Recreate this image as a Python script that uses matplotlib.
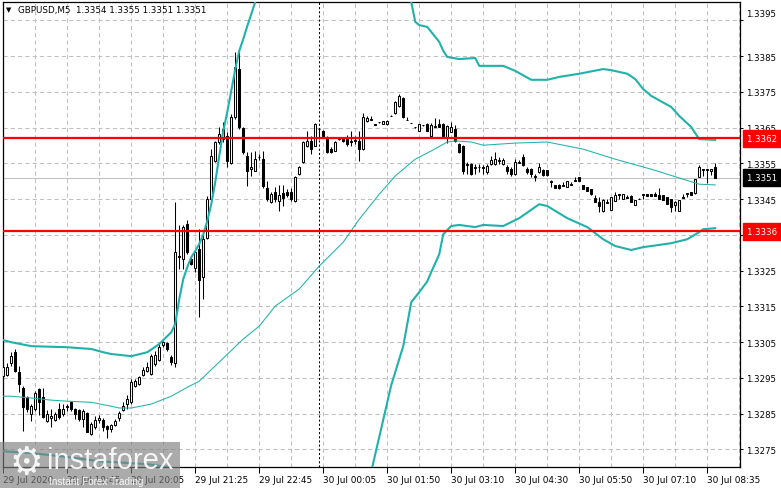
import matplotlib
matplotlib.use("Agg")
import matplotlib.pyplot as plt
import matplotlib.transforms as mtransforms
from matplotlib.patches import Rectangle
import numpy as np

# GBPUSD M5 bars (bar index 0 = leftmost)
opens = [1.32955, 1.32959, 1.32992, 1.33022, 1.32966, 1.32921, 1.32896, 1.32849, 1.32863, 1.32919,
         1.32896, 1.32830, 1.32837, 1.32833, 1.32863, 1.32849, 1.32868, 1.32884, 1.32863, 1.32861,
         1.32835, 1.32852, 1.32793, 1.32812, 1.32833, 1.32833, 1.32815, 1.32807, 1.32818, 1.32837,
         1.32861, 1.32877, 1.32882, 1.32928, 1.32933, 1.32958, 1.32970, 1.32961, 1.32989, 1.33001,
         1.33042, 1.33048, 1.33010, 1.32992, 1.33291, 1.33283, 1.33381, 1.33283, 1.33257, 1.33311,
         1.33232, 1.33341, 1.33451, 1.33558, 1.33610, 1.33619, 1.33628, 1.33552, 1.33680, 1.33815,
         1.33649, 1.33572, 1.33535, 1.33530, 1.33567, 1.33563, 1.33481, 1.33442, 1.33470, 1.33444,
         1.33468, 1.33470, 1.33470, 1.33444, 1.33521, 1.33554, 1.33600, 1.33614, 1.33600, 1.33645,
         1.33641, 1.33621, 1.33591, 1.33586, 1.33618, 1.33621, 1.33621, 1.33610, 1.33613, 1.33614,
         1.33591, 1.33669, 1.33671, 1.33660, 1.33665, 1.33660, 1.33660, 1.33683, 1.33691, 1.33711,
         1.33733, 1.33671, 1.33663, 1.33652, 1.33641, 1.33657, 1.33660, 1.33627, 1.33652, 1.33660,
         1.33660, 1.33621, 1.33638, 1.33646, 1.33604, 1.33599, 1.33545, 1.33548, 1.33537, 1.33540,
         1.33537, 1.33526, 1.33548, 1.33548, 1.33557, 1.33548, 1.33540, 1.33534, 1.33520, 1.33551,
         1.33568, 1.33534, 1.33534, 1.33512, 1.33526, 1.33531, 1.33531, 1.33499, 1.33490, 1.33490,
         1.33487, 1.33484, 1.33490, 1.33501, 1.33512, 1.33490, 1.33484, 1.33479, 1.33454, 1.33442,
         1.33417, 1.33440, 1.33420, 1.33445, 1.33462, 1.33451, 1.33454, 1.33459, 1.33434, 1.33451,
         1.33462, 1.33465, 1.33465, 1.33465, 1.33462, 1.33462, 1.33457, 1.33451, 1.33434, 1.33417,
         1.33454, 1.33465, 1.33470, 1.33468, 1.33512, 1.33531, 1.33531, 1.33529, 1.33540]
highs = [1.32989, 1.32992, 1.33024, 1.33031, 1.32984, 1.32927, 1.32900, 1.32877, 1.32914, 1.32921,
         1.32921, 1.32861, 1.32863, 1.32854, 1.32880, 1.32877, 1.32877, 1.32887, 1.32865, 1.32863,
         1.32863, 1.32854, 1.32826, 1.32843, 1.32846, 1.32837, 1.32818, 1.32821, 1.32835, 1.32858,
         1.32882, 1.32902, 1.32947, 1.32947, 1.32956, 1.32980, 1.32994, 1.33017, 1.33026, 1.33045,
         1.33054, 1.33052, 1.33014, 1.33442, 1.33377, 1.33378, 1.33392, 1.33288, 1.33309, 1.33367,
         1.33349, 1.33460, 1.33591, 1.33614, 1.33652, 1.33666, 1.33638, 1.33689, 1.33862, 1.33866,
         1.33652, 1.33582, 1.33582, 1.33586, 1.33577, 1.33586, 1.33502, 1.33470, 1.33484, 1.33490,
         1.33490, 1.33479, 1.33481, 1.33515, 1.33544, 1.33614, 1.33640, 1.33628, 1.33664, 1.33649,
         1.33643, 1.33626, 1.33596, 1.33612, 1.33623, 1.33624, 1.33630, 1.33640, 1.33626, 1.33642,
         1.33692, 1.33683, 1.33683, 1.33660, 1.33666, 1.33669, 1.33671, 1.33685, 1.33725, 1.33744,
         1.33736, 1.33680, 1.33664, 1.33653, 1.33660, 1.33658, 1.33663, 1.33663, 1.33677, 1.33674,
         1.33663, 1.33657, 1.33666, 1.33657, 1.33607, 1.33601, 1.33554, 1.33551, 1.33548, 1.33548,
         1.33545, 1.33548, 1.33571, 1.33582, 1.33568, 1.33565, 1.33545, 1.33540, 1.33562, 1.33559,
         1.33576, 1.33540, 1.33537, 1.33520, 1.33551, 1.33534, 1.33531, 1.33503, 1.33490, 1.33492,
         1.33498, 1.33501, 1.33498, 1.33512, 1.33512, 1.33490, 1.33484, 1.33479, 1.33462, 1.33457,
         1.33451, 1.33451, 1.33457, 1.33470, 1.33465, 1.33465, 1.33462, 1.33462, 1.33448, 1.33452,
         1.33465, 1.33465, 1.33465, 1.33470, 1.33482, 1.33462, 1.33457, 1.33451, 1.33445, 1.33448,
         1.33465, 1.33468, 1.33470, 1.33506, 1.33545, 1.33534, 1.33534, 1.33534, 1.33550]
lows = [1.32942, 1.32956, 1.32984, 1.32966, 1.32910, 1.32802, 1.32854, 1.32830, 1.32858, 1.32846,
        1.32837, 1.32826, 1.32812, 1.32830, 1.32835, 1.32843, 1.32858, 1.32858, 1.32835, 1.32830,
        1.32812, 1.32798, 1.32790, 1.32807, 1.32824, 1.32802, 1.32781, 1.32798, 1.32815, 1.32830,
        1.32858, 1.32863, 1.32877, 1.32924, 1.32930, 1.32956, 1.32966, 1.32958, 1.32984, 1.32998,
        1.33038, 1.33026, 1.32986, 1.32980, 1.33255, 1.33255, 1.33297, 1.33265, 1.33246, 1.33120,
        1.33171, 1.33339, 1.33446, 1.33554, 1.33605, 1.33610, 1.33540, 1.33549, 1.33675, 1.33647,
        1.33577, 1.33488, 1.33516, 1.33528, 1.33561, 1.33481, 1.33446, 1.33440, 1.33442, 1.33418,
        1.33432, 1.33456, 1.33446, 1.33442, 1.33518, 1.33552, 1.33596, 1.33577, 1.33598, 1.33619,
        1.33626, 1.33580, 1.33580, 1.33584, 1.33615, 1.33610, 1.33600, 1.33600, 1.33605, 1.33558,
        1.33589, 1.33666, 1.33671, 1.33657, 1.33664, 1.33660, 1.33657, 1.33682, 1.33688, 1.33708,
        1.33677, 1.33671, 1.33662, 1.33650, 1.33641, 1.33656, 1.33641, 1.33627, 1.33652, 1.33652,
        1.33627, 1.33607, 1.33638, 1.33610, 1.33579, 1.33520, 1.33520, 1.33517, 1.33520, 1.33526,
        1.33520, 1.33520, 1.33545, 1.33545, 1.33548, 1.33545, 1.33520, 1.33515, 1.33517, 1.33551,
        1.33543, 1.33520, 1.33512, 1.33501, 1.33523, 1.33515, 1.33515, 1.33484, 1.33482, 1.33479,
        1.33487, 1.33484, 1.33490, 1.33501, 1.33501, 1.33479, 1.33473, 1.33462, 1.33442, 1.33414,
        1.33414, 1.33440, 1.33420, 1.33445, 1.33451, 1.33451, 1.33454, 1.33442, 1.33434, 1.33450,
        1.33451, 1.33459, 1.33459, 1.33459, 1.33451, 1.33448, 1.33437, 1.33414, 1.33417, 1.33417,
        1.33454, 1.33457, 1.33462, 1.33465, 1.33512, 1.33515, 1.33495, 1.33517, 1.33510]
closes = [1.32980, 1.32982, 1.33012, 1.32970, 1.32933, 1.32868, 1.32863, 1.32871, 1.32908, 1.32882,
          1.32840, 1.32849, 1.32843, 1.32849, 1.32840, 1.32863, 1.32871, 1.32863, 1.32849, 1.32835,
          1.32858, 1.32800, 1.32821, 1.32833, 1.32837, 1.32812, 1.32807, 1.32818, 1.32830, 1.32852,
          1.32871, 1.32891, 1.32938, 1.32942, 1.32952, 1.32973, 1.32980, 1.33012, 1.33014, 1.33036,
          1.33050, 1.33031, 1.32994, 1.33302, 1.33288, 1.33372, 1.33302, 1.33269, 1.33302, 1.33223,
          1.33339, 1.33451, 1.33572, 1.33610, 1.33633, 1.33647, 1.33558, 1.33680, 1.33820, 1.33652,
          1.33582, 1.33530, 1.33540, 1.33563, 1.33569, 1.33488, 1.33451, 1.33465, 1.33451, 1.33462,
          1.33453, 1.33461, 1.33451, 1.33512, 1.33540, 1.33610, 1.33612, 1.33591, 1.33661, 1.33647,
          1.33628, 1.33582, 1.33582, 1.33610, 1.33620, 1.33612, 1.33605, 1.33613, 1.33615, 1.33591,
          1.33680, 1.33677, 1.33674, 1.33658, 1.33666, 1.33669, 1.33669, 1.33684, 1.33722, 1.33739,
          1.33680, 1.33672, 1.33663, 1.33651, 1.33660, 1.33657, 1.33641, 1.33657, 1.33655, 1.33652,
          1.33627, 1.33655, 1.33652, 1.33613, 1.33582, 1.33529, 1.33548, 1.33520, 1.33540, 1.33540,
          1.33540, 1.33543, 1.33559, 1.33562, 1.33559, 1.33559, 1.33529, 1.33520, 1.33554, 1.33554,
          1.33545, 1.33526, 1.33520, 1.33515, 1.33540, 1.33517, 1.33517, 1.33501, 1.33482, 1.33482,
          1.33489, 1.33501, 1.33492, 1.33503, 1.33501, 1.33479, 1.33473, 1.33465, 1.33442, 1.33431,
          1.33448, 1.33442, 1.33457, 1.33462, 1.33465, 1.33465, 1.33457, 1.33442, 1.33448, 1.33451,
          1.33465, 1.33459, 1.33459, 1.33459, 1.33451, 1.33448, 1.33437, 1.33428, 1.33442, 1.33448,
          1.33457, 1.33468, 1.33462, 1.33506, 1.33540, 1.33534, 1.33534, 1.33534, 1.33510]

# Bollinger bands, sampled off the chart (bar index, price); None = gap
bb_upper_idx = [0, 2, 7, 16, 22, 25, 27, 32, 36, 39, 42, 43, 44, 45, 46, 47, 48, 49, 50, 51,
                52, 53, 54, 55, 56, 57, 58, 59, 60, 61, 62, 63, 64,
                None,
                101, 102, 103, 104, 106, 107, 109, 110, 111, 114, 118, 119, 125, 128, 132, 136,
                139, 144, 150, 152, 156, 158, 160, 162, 167, 169, 172, 174, 178]
bb_upper = [1.33056, 1.33050, 1.33039, 1.33036, 1.33031, 1.33022, 1.33017, 1.33011, 1.33022, 1.33045,
            1.33078, 1.33101, 1.33171, 1.33227, 1.33260, 1.33288, 1.33305, 1.33325, 1.33352, 1.33389,
            1.33436, 1.33498, 1.33571, 1.33641, 1.33694, 1.33753, 1.33814, 1.33865, 1.33898, 1.33934,
            1.33968, 1.34002, 1.34035,
            None,
            1.34035, 1.34002, 1.33946, 1.33937, 1.33932, 1.33918, 1.33890, 1.33865, 1.33848, 1.33842,
            1.33845, 1.33823, 1.33823, 1.33809, 1.33784, 1.33784, 1.33792, 1.33801, 1.33814, 1.33811,
            1.33801, 1.33786, 1.33758, 1.33739, 1.33708, 1.33683, 1.33652, 1.33618, 1.33616]
bb_mid_idx = [0, 2, 7, 12, 16, 22, 27, 29, 32, 37, 42, 46, 49, 60, 64, 68, 74, 79, 85, 89,
              94, 98, 103, 107, 111, 113, 117, 120, 128, 136, 145, 153, 162, 170, 174, 178]
bb_mid = [1.32899, 1.32899, 1.32894, 1.32888, 1.32885, 1.32882, 1.32871, 1.32866, 1.32866, 1.32877,
          1.32899, 1.32924, 1.32941, 1.33059, 1.33095, 1.33151, 1.33199, 1.33263, 1.33330, 1.33394,
          1.33464, 1.33515, 1.33562, 1.33585, 1.33610, 1.33613, 1.33610, 1.33601, 1.33607, 1.33610,
          1.33590, 1.33562, 1.33534, 1.33506, 1.33492, 1.33490]
bb_lower_idx = [0, 7, 16, 24, 36, 42, 43,
                None,
                91, 97, 100, 102, 104, 106, 107, 109, 110, 112, 114, 118, 120, 125, 129, 134, 136,
                141, 146, 150, 153, 157, 160, 162, 167, 171, 174, 175, 178]
bb_lower = [1.32745, 1.32740, 1.32729, 1.32717, 1.32709, 1.32700, 1.32650,
            None,
            1.32640, 1.32930, 1.33039, 1.33162, 1.33190, 1.33220, 1.33246, 1.33296, 1.33352, 1.33375,
            1.33378, 1.33372, 1.33378, 1.33375, 1.33397, 1.33436, 1.33431, 1.33397, 1.33372, 1.33338,
            1.33319, 1.33308, 1.33316, 1.33319, 1.33327, 1.33338, 1.33358, 1.33366, 1.33369]

level_high = 1.3362
level_low = 1.3336
last_price = 1.3351
header = "GBPUSD,M5  1.3354 1.3355 1.3351 1.3351"

price_ticks = [1.3275, 1.3285, 1.3295, 1.3305, 1.3315, 1.3325, 1.3335,
               1.3345, 1.3355, 1.3365, 1.3375, 1.3385, 1.3395]
time_idx = [0, 16, 32, 48, 64, 80, 96, 112, 128, 144, 160, 176]
time_labels = ["29 Jul 2020", "29 Jul 18:45", "29 Jul 20:05", "29 Jul 21:25",
               "29 Jul 22:45", "30 Jul 00:05", "30 Jul 01:50", "30 Jul 03:10",
               "30 Jul 04:30", "30 Jul 05:50", "30 Jul 07:10", "30 Jul 08:35"]
day_sep_idx = 79

TEAL = "#20b2aa"
GRID = "#c0c0c0"


def to_arr(vals):
    return np.array([np.nan if v is None else v for v in vals], dtype=float)


W, H = 781, 489
fig = plt.figure(figsize=(W / 100, H / 100), dpi=100)
fig.patch.set_facecolor("white")
ax = fig.add_axes([2.5 / W, (H - 468) / H, (740 - 2.5) / W, (468 - 2.5) / H])
ax.set_xlim(-0.2, 184.2)
ax.set_ylim(1.32701, 1.34003)

# grid
ax.set_xticks(time_idx)
ax.set_xticks(np.arange(8, 185, 16), minor=True)
ax.set_yticks(price_ticks)
ax.grid(True, which="both", color=GRID, lw=0.75, ls=(0, (4, 3)), zorder=0)
ax.set_axisbelow(True)

ax.axhline(last_price, color=GRID, lw=0.75, zorder=1)
ax.axvline(day_sep_idx, color="black", lw=0.75, ls=(0, (2, 2)), zorder=1)

# candles
o, h, l, c = (np.array(a) for a in (opens, highs, lows, closes))
x = np.arange(len(o))
up = c >= o
ax.vlines(x, l, h, color="black", lw=0.75, zorder=2)
lo = np.minimum(o, c)
hh = np.maximum(np.abs(c - o), 1e-6)
ax.bar(x[up], hh[up], bottom=lo[up], width=0.55, color="white",
       edgecolor="black", lw=0.75, zorder=3)
ax.bar(x[~up], hh[~up], bottom=lo[~up], width=0.55, color="black",
       edgecolor="black", lw=0.75, zorder=3)

# bollinger bands
ax.plot(to_arr(bb_upper_idx), to_arr(bb_upper), color=TEAL, lw=1.5, zorder=4)
ax.plot(to_arr(bb_lower_idx), to_arr(bb_lower), color=TEAL, lw=1.5, zorder=4)
ax.plot(bb_mid_idx, bb_mid, color=TEAL, lw=0.75, zorder=4)

# levels
ax.axhline(level_high, color="red", lw=1.6, zorder=6)
ax.axhline(level_low, color="red", lw=1.6, zorder=6)

# axes style
for s in ax.spines.values():
    s.set_linewidth(0.9)
ax.yaxis.tick_right()
ax.set_yticklabels([f"{p:.4f}" for p in price_ticks])
ax.tick_params(axis="y", length=2.5, width=0.75, labelsize=6.2, pad=2)
ax.set_xticklabels(time_labels)
ax.tick_params(axis="x", which="major", length=4, width=0.75, labelsize=6.4, pad=1.5)
ax.tick_params(axis="x", which="minor", length=0)
for lab in ax.get_xticklabels():
    lab.set_horizontalalignment("left")
top_lab = ax.get_yticklabels()[-1]
top_lab.set_transform(top_lab.get_transform() +
                      mtransforms.ScaledTranslation(0, 6 / 72, fig.dpi_scale_trans))

# price tags on the right scale
tr = mtransforms.blended_transform_factory(ax.transAxes, ax.transData)
for p, fc in ((level_high, "red"), (last_price, "black"), (level_low, "red")):
    ax.text(1.0097, p, f"{p:.4f} ", transform=tr, ha="left", va="center",
            fontsize=6.2, color="white", clip_on=False, zorder=10,
            bbox=dict(boxstyle="square,pad=0.45", fc=fc, ec=fc))

# header
fig.text(6 / W, 1 - 10.5 / H, "\u25bc", fontsize=5, va="center", ha="left")
fig.text(18 / W, 1 - 10.5 / H, header, fontsize=6.3, va="center", ha="left")

# watermark
ov = fig.add_axes([0, 0, 1, 1], zorder=20)
ov.set_xlim(0, W)
ov.set_ylim(H, 0)
ov.axis("off")
ov.add_patch(Rectangle((0, 443), 180, 46, fc="#7f7f7f", ec="none", alpha=0.65))
ov.text(26, 464, "\u2699", fontsize=27, color="white", alpha=0.9,
        ha="center", va="center")
ov.text(47, 461, "instaforex", fontsize=21, color="white", alpha=0.9,
        family="Liberation Sans", ha="left", va="center")
ov.text(49, 482, "Instant Forex Trading", fontsize=7.2, color="white", alpha=0.9,
        family="Liberation Sans", ha="left", va="center")

fig.savefig("out.png", dpi=100)
